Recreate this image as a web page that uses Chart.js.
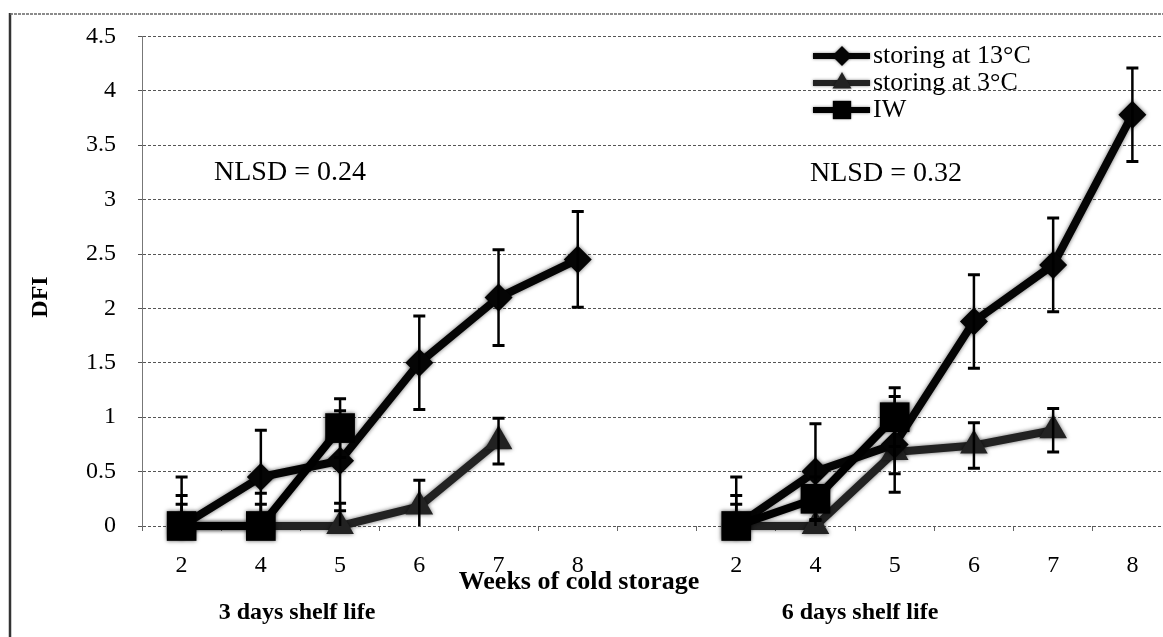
<!DOCTYPE html>
<html>
<head>
<meta charset="utf-8">
<script src="https://cdn.jsdelivr.net/npm/chart.js@4.4.1/dist/chart.umd.min.js"></script>
<style>
  html, body { margin: 0; padding: 0; background: #fff; overflow: hidden; }
  canvas { display: block; }
</style>
</head>
<body>
<canvas id="chart" width="1172" height="637"></canvas>
<script>
// weeks of cold storage, two shelf-life blocks separated by an empty slot
const weeks = ['2', '4', '5', '6', '7', '8', '', '2', '4', '5', '6', '7', '8'];

// DFI means
const dfi13 = [0, 0.45, 0.6, 1.5, 2.1, 2.45, null, 0, 0.5, 0.75, 1.88, 2.4, 3.78];
const dfi3 = [0, 0, 0, 0.18, 0.78, null, null, 0, 0, 0.68, 0.74, 0.88, null];
const dfiIW = [0, 0, 0.9, null, null, null, null, 0, 0.25, 1.0, null, null, null];

// error bar half-widths
const err13 = [0.45, 0.43, 0.46, 0.43, 0.44, 0.44, null, 0.45, 0.44, 0.44, 0.43, 0.43, 0.43];
const err3 = [0.28, 0.3, 0.21, 0.24, 0.21, null, null, 0.28, 0.2, 0.2, 0.21, 0.2, null];
const errIW = [0.2, 0.2, 0.27, null, null, null, null, 0.2, 0.2, 0.27, null, null, null];

const serif = "'Liberation Serif', 'Times New Roman', serif";
Chart.defaults.font.family = serif;
Chart.defaults.color = '#000';

const errSets = [err13, err3, errIW];

// soft grey halo round the lines and markers
const halo = {
  id: 'halo',
  beforeDatasetsDraw(chart) {
    const ctx = chart.ctx;
    ctx.save();
    ctx.shadowColor = 'rgba(0,0,0,0.6)';
    ctx.shadowBlur = 4;
  },
  afterDatasetsDraw(chart) {
    chart.ctx.restore();
  }
};

const errorBars = {
  id: 'errorBars',
  afterDatasetsDraw(chart) {
    const { ctx, chartArea, scales: { x, y } } = chart;
    ctx.save();
    ctx.beginPath();
    ctx.rect(chartArea.left, chartArea.top, chartArea.width, chartArea.height);
    ctx.clip();
    ctx.strokeStyle = '#000';
    chart.data.datasets.forEach((ds, d) => {
      ds.data.forEach((v, i) => {
        const e = errSets[d][i];
        if (v === null || e === null) return;
        const px = x.getPixelForValue(i);
        const top = y.getPixelForValue(v + e);
        const bot = y.getPixelForValue(v - e);
        ctx.lineWidth = 2.5;
        ctx.beginPath();
        ctx.moveTo(px, top);
        ctx.lineTo(px, bot);
        ctx.stroke();
        ctx.lineWidth = 3;
        ctx.beginPath();
        ctx.moveTo(px - 6, top); ctx.lineTo(px + 6, top);
        ctx.moveTo(px - 6, bot); ctx.lineTo(px + 6, bot);
        ctx.stroke();
      });
    });
    ctx.restore();
  }
};

const legendMarks = [
  { style: 'rectRot', radius: 10 },
  { style: 'triangle', radius: 11 },
  { style: 'rect', radius: 13 }
];

// frame, titles, notes and the legend
const labels = {
  id: 'labels',
  afterDraw(chart) {
    const ctx = chart.ctx;
    ctx.save();

    ctx.strokeStyle = '#333';
    ctx.lineWidth = 2.5;
    ctx.beginPath();
    ctx.moveTo(10, 13);
    ctx.lineTo(10, chart.height);
    ctx.stroke();
    ctx.strokeStyle = '#666';
    ctx.lineWidth = 1.5;
    ctx.setLineDash([3, 1]);
    ctx.beginPath();
    ctx.moveTo(10, 14);
    ctx.lineTo(chart.width, 14);
    ctx.stroke();
    ctx.setLineDash([]);

    ctx.fillStyle = '#000';
    ctx.textBaseline = 'middle';
    ctx.textAlign = 'center';

    ctx.font = '28px ' + serif;
    ctx.fillText('NLSD = 0.24', 290, 173);
    ctx.fillText('NLSD = 0.32', 886, 174);

    ctx.font = 'bold 26px ' + serif;
    ctx.fillText('Weeks of cold storage', 579, 582);
    ctx.font = 'bold 24px ' + serif;
    ctx.fillText('3 days shelf life', 297, 613);
    ctx.fillText('6 days shelf life', 860, 613);

    ctx.save();
    ctx.translate(41, 297);
    ctx.rotate(-Math.PI / 2);
    ctx.fillText('DFI', 0, 0);
    ctx.restore();

    ctx.textAlign = 'left';
    ctx.font = '26px ' + serif;
    chart.data.datasets.forEach((ds, i) => {
      const ly = 56 + 27 * i;
      ctx.save();
      ctx.shadowColor = 'rgba(0,0,0,0.5)';
      ctx.shadowBlur = 3;
      ctx.strokeStyle = ds.borderColor;
      ctx.fillStyle = ds.borderColor;
      ctx.lineWidth = 6;
      ctx.beginPath();
      ctx.moveTo(813, ly);
      ctx.lineTo(870, ly);
      ctx.stroke();
      Chart.helpers.drawPoint(ctx, {
        pointStyle: legendMarks[i].style,
        radius: legendMarks[i].radius,
        rotation: 0,
        borderWidth: 0
      }, 842, ly);
      ctx.restore();
      ctx.fillStyle = '#000';
      ctx.fillText(ds.label, 873, ly);
    });

    ctx.restore();
  }
};

const chart = new Chart(document.getElementById('chart').getContext('2d'), {
  type: 'line',
  data: {
    labels: weeks,
    datasets: [
      {
        label: 'storing at 13°C',
        data: dfi13,
        borderColor: '#050505',
        backgroundColor: '#050505',
        pointStyle: 'rectRot',
        pointRadius: 14,
        clip: false,
        order: 2
      },
      {
        label: 'storing at 3°C',
        data: dfi3,
        borderColor: '#222',
        backgroundColor: '#222',
        pointStyle: 'triangle',
        pointRadius: 16,
        clip: false,
        order: 3
      },
      {
        label: 'IW',
        data: dfiIW,
        borderColor: '#000',
        backgroundColor: '#000',
        pointStyle: 'rect',
        pointRadius: 21,
        clip: false,
        order: 1
      }
    ]
  },
  options: {
    responsive: false,
    animation: false,
    layout: { autoPadding: false, padding: { top: 28, left: 0, right: 0, bottom: 0 } },
    elements: {
      line: { borderWidth: 8, tension: 0, borderJoinStyle: 'round', borderCapStyle: 'round' },
      point: { borderWidth: 0, hoverRadius: 0 }
    },
    plugins: {
      legend: { display: false },
      tooltip: { enabled: false }
    },
    scales: {
      x: {
        offset: true,
        grid: { display: true, drawOnChartArea: false, offset: true, tickLength: 5, color: '#666' },
        border: { display: false },
        ticks: { padding: 20, autoSkip: false, maxRotation: 0, font: { size: 24 }, color: '#000' },
        afterFit: s => { s.height = 111; }
      },
      y: {
        min: 0,
        max: 4.5,
        ticks: { stepSize: 0.5, padding: 22, font: { size: 24 }, color: '#000', callback: v => String(v) },
        grid: { color: '#555', lineWidth: 1, tickLength: 4 },
        border: { display: true, color: '#777', width: 1, dash: [3, 2] },
        afterFit: s => { s.width = 142; }
      }
    }
  },
  plugins: [halo, errorBars, labels]
});
</script>
</body>
</html>
